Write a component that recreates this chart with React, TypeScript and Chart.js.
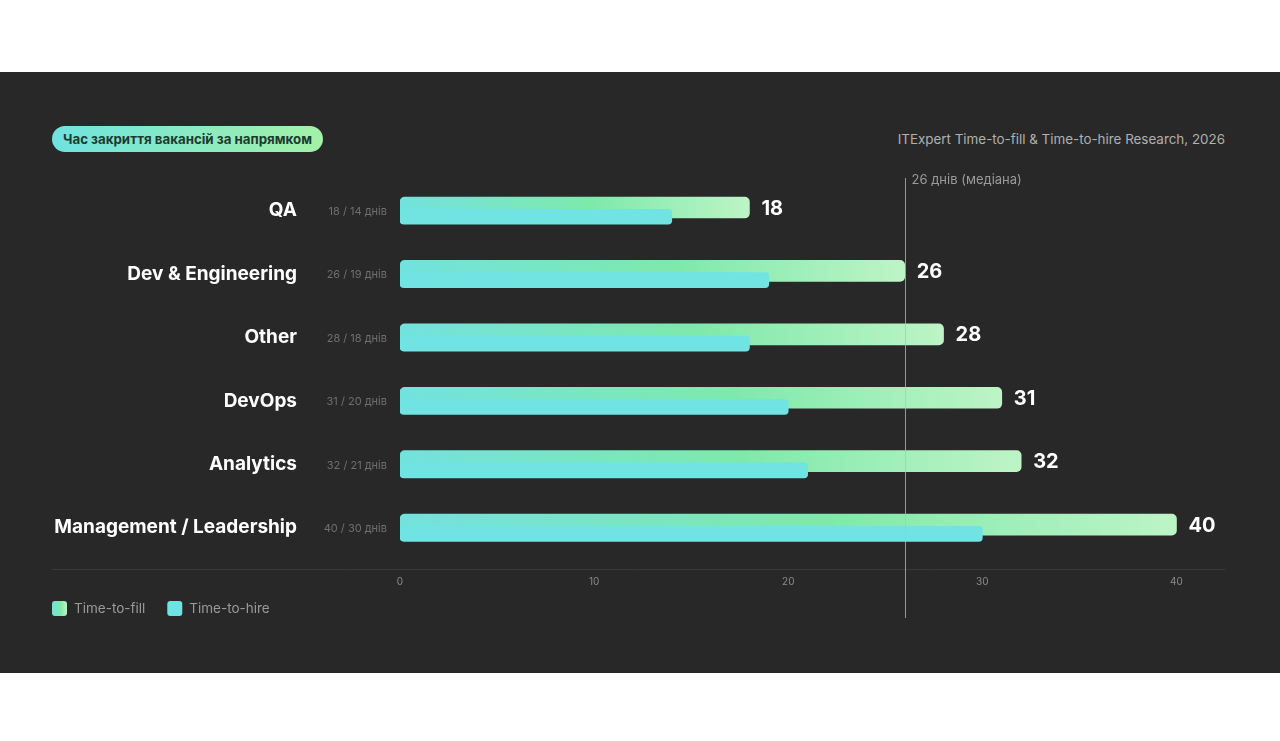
import React, { useEffect, useRef } from "react";
import { Chart, registerables } from "chart.js";

Chart.register(...registerables);

// Vacancy directions and their closing times (days)
const categories = ["QA", "Dev & Engineering", "Other", "DevOps", "Analytics", "Management / Leadership"];
const timeToFill = [18, 26, 28, 31, 32, 40];
const timeToHire = [14, 19, 18, 20, 21, 30];
const xTickValues = [0, 10, 20, 30, 40];
const medianDays = 26;
const seriesNames = ["Time-to-fill", "Time-to-hire"];

const FONT = "Inter, 'Noto Sans', sans-serif";
const LABEL_GUTTER = 348; // room left of the plot for category labels

// Row offsets (in category units) for the two overlapping bars
const FILL_SHIFT = -0.05;
const HIRE_SHIFT = 0.095;

function fillGradient(ctx: CanvasRenderingContext2D, x0: number, x1: number) {
  const g = ctx.createLinearGradient(x0, 0, x1, 0);
  g.addColorStop(0, "#72e2de");
  g.addColorStop(0.55, "#7ee9ab");
  g.addColorStop(1, "#bdf4c6");
  return g;
}

const overlayPlugin = {
  id: "overlay",
  afterDatasetsDraw(chart: any) {
    const { ctx, chartArea, scales } = chart;
    const xs = scales.x;
    const ys = scales.y;
    ctx.save();

    // baseline across the whole block
    ctx.strokeStyle = "#3a3a3a";
    ctx.lineWidth = 1;
    ctx.beginPath();
    ctx.moveTo(chartArea.left - LABEL_GUTTER, Math.round(chartArea.bottom) + 0.5);
    ctx.lineTo(chartArea.right, Math.round(chartArea.bottom) + 0.5);
    ctx.stroke();

    // median marker
    const mx = Math.round(xs.getPixelForValue(medianDays)) + 0.5;
    ctx.strokeStyle = "rgba(190,190,190,0.75)";
    ctx.beginPath();
    ctx.moveTo(mx, chartArea.top - 1);
    ctx.lineTo(mx, chartArea.bottom + 49);
    ctx.stroke();
    ctx.fillStyle = "#9a9a9a";
    ctx.font = `400 13px ${FONT}`;
    ctx.textAlign = "left";
    ctx.textBaseline = "middle";
    ctx.fillText(`${medianDays} днів (медіана)`, mx + 6, chartArea.top + 1);

    // category names, day pairs and value labels
    categories.forEach((name, i) => {
      const yc = ys.getPixelForValue(i);
      ctx.textBaseline = "middle";
      ctx.textAlign = "right";
      ctx.fillStyle = "#ffffff";
      ctx.font = `700 19px ${FONT}`;
      ctx.fillText(name, chartArea.left - 103, yc);
      ctx.fillStyle = "#6f6f6f";
      ctx.font = `400 11px ${FONT}`;
      ctx.fillText(`${timeToFill[i]} / ${timeToHire[i]} днів`, chartArea.left - 13, yc + 1);

      const fy = ys.getPixelForValue(i + FILL_SHIFT);
      ctx.textAlign = "left";
      ctx.fillStyle = "#ffffff";
      ctx.font = `700 20px ${FONT}`;
      ctx.fillText(String(timeToFill[i]), xs.getPixelForValue(timeToFill[i]) + 12, fy + 1);
    });

    // legend
    let lx = chartArea.left - LABEL_GUTTER;
    const ly = chartArea.bottom + 32;
    ctx.font = `400 13.5px ${FONT}`;
    ctx.textBaseline = "middle";
    seriesNames.forEach((label, k) => {
      ctx.fillStyle = k === 0 ? fillGradient(ctx, lx, lx + 15) : "#6fe3e2";
      ctx.beginPath();
      (ctx as any).roundRect(lx, ly, 15, 15, 3);
      ctx.fill();
      ctx.fillStyle = "#9a9a9a";
      ctx.fillText(label, lx + 22, ly + 8);
      lx += 22 + ctx.measureText(label).width + 22;
    });

    ctx.restore();
  },
};

export default function App() {
  const canvasRef = useRef<HTMLCanvasElement | null>(null);

  useEffect(() => {
    const canvas = canvasRef.current;
    if (!canvas) return;

    const chart = new Chart(canvas, {
      type: "bar",
      data: {
        datasets: [
          {
            label: seriesNames[0],
            data: timeToFill.map((v, i) => ({ x: v, y: i + FILL_SHIFT })),
            barThickness: 21,
            borderRadius: 5,
            borderSkipped: false,
            grouped: false,
            order: 1,
            backgroundColor: (c: any) => {
              const ch = c.chart;
              if (!ch.chartArea || !c.raw) return "#7ee9ab";
              const x0 = ch.scales.x.getPixelForValue(0);
              const x1 = ch.scales.x.getPixelForValue(c.raw.x);
              return fillGradient(ch.ctx, x0, x1);
            },
          },
          {
            label: seriesNames[1],
            data: timeToHire.map((v, i) => ({ x: v, y: i + HIRE_SHIFT })),
            barThickness: 15,
            borderRadius: 4,
            borderSkipped: false,
            grouped: false,
            order: 0,
            backgroundColor: "#70e3e2",
          },
        ],
      },
      options: {
        indexAxis: "y",
        animation: false,
        responsive: true,
        maintainAspectRatio: false,
        layout: { padding: { top: 14, left: LABEL_GUTTER, right: 0, bottom: 35 } },
        plugins: { legend: { display: false }, tooltip: { enabled: false } },
        scales: {
          x: {
            type: "linear",
            min: 0,
            max: 42.5,
            afterBuildTicks: (scale: any) => {
              scale.ticks = xTickValues.map((v) => ({ value: v }));
            },
            grid: { display: false, drawTicks: false },
            border: { display: false },
            ticks: { color: "#8a8a8a", padding: 7, font: { family: FONT, size: 10 } },
          },
          y: {
            type: "linear",
            min: -0.5,
            max: 5.65,
            reverse: true,
            offset: false,
            display: false,
          },
        },
      },
      plugins: [overlayPlugin],
    } as any);

    return () => chart.destroy();
  }, []);

  return (
    <div style={{ position: "absolute", left: 0, top: 0, width: 1280, height: 741, background: "#ffffff", fontFamily: FONT }}>
      <div style={{ position: "absolute", left: 0, top: 72, width: 1280, height: 601, background: "#282828" }}>
        <div
          style={{
            position: "absolute",
            left: 52,
            top: 54,
            height: 26,
            padding: "0 11px",
            borderRadius: 13,
            background: "linear-gradient(90deg, #6fe3e0, #a3f1a7)",
            color: "#1d3a2f",
            fontWeight: 700,
            fontSize: 13.3,
            lineHeight: "26px",
            whiteSpace: "nowrap",
          }}
        >
          Час закриття вакансій за напрямком
        </div>
        <div
          style={{
            position: "absolute",
            right: 55,
            top: 58,
            color: "#b0b0b0",
            fontSize: 13.4,
            lineHeight: "18px",
            whiteSpace: "nowrap",
          }}
        >
          ITExpert Time-to-fill &amp; Time-to-hire Research, 2026
        </div>
        <div style={{ position: "absolute", left: 52, top: 93, width: 1173, height: 465 }}>
          <canvas ref={canvasRef} />
        </div>
      </div>
    </div>
  );
}
